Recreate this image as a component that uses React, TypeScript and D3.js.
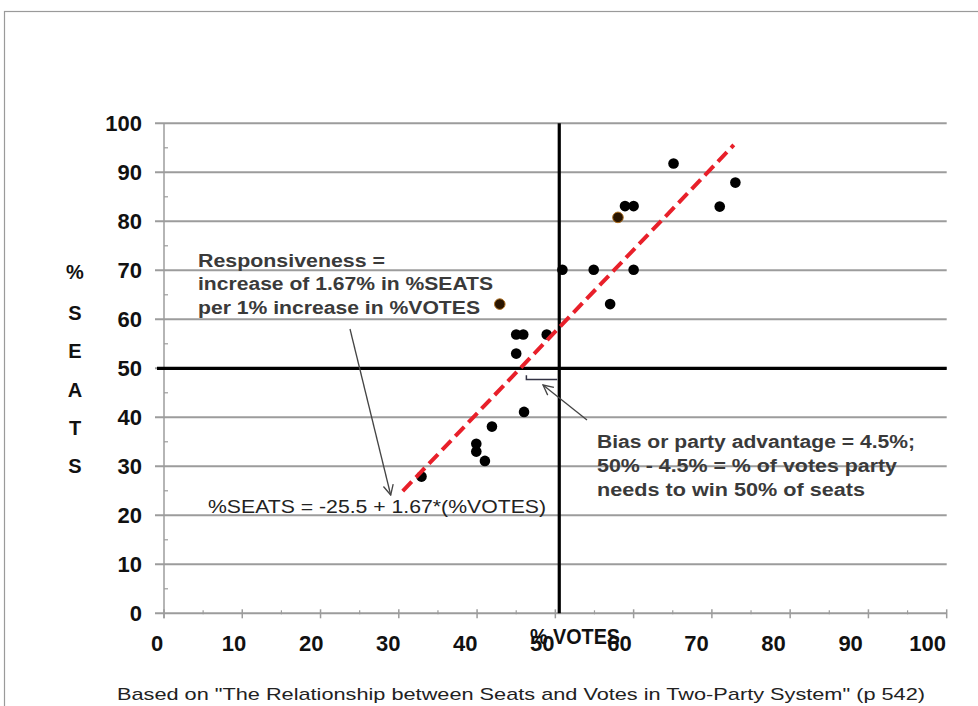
import React from "react";
import * as d3 from "d3";

const votes = [32.9, 39.9, 39.9, 41.0, 41.9, 42.9, 45.0, 45.9, 45.0, 46.0, 48.9, 50.9, 54.9, 57.0, 58.0, 58.9, 60.0, 60.0, 65.1, 71.0, 73.0];
const seats = [27.9, 34.6, 33.0, 31.1, 38.1, 63.1, 56.9, 56.9, 53.0, 41.1, 56.9, 70.1, 70.1, 63.1, 80.8, 83.1, 83.1, 70.1, 91.8, 83.0, 87.9];
const highlighted = [false, false, false, false, false, true, false, false, false, false, false, false, false, false, true, false, false, false, false, false, false];

const xTicks = [0, 10, 20, 30, 40, 50, 60, 70, 80, 90, 100];
const yTicks = [0, 10, 20, 30, 40, 50, 60, 70, 80, 90, 100];
const minorTicks = [5, 15, 25, 35, 45, 55, 65, 75, 85, 95];

const fitIntercept = -26;
const fitSlope = 1.67;
const fitRange = [30.5, 72.8];
const seatThreshold = 50;
const voteThreshold = 50.5;

const respLines = ["Responsiveness  =", "increase of 1.67%  in %SEATS", "per 1%  increase in %VOTES"];
const biasLines = ["Bias or party advantage = 4.5%;", "50%  - 4.5%  = %  of votes  party", "needs to win  50%  of seats"];
const equation = "%SEATS  = -25.5 + 1.67*(%VOTES)";
const yTitle = ["S", "E", "A", "T", "S"];
const footer = "Based on \"The Relationship  between  Seats and Votes in Two-Party  System\" (p 542)";

const W = 978;
const H = 706;
const FONT = "'Liberation Sans', Arial, sans-serif";

export default function App() {
  const x = d3.scaleLinear().domain([0, 100]).range([164, 946.7]);
  const y = d3.scaleLinear().domain([0, 100]).range([613.3, 123.3]);
  const line = d3.line<number>().x((v) => x(v)).y((v) => y(fitIntercept + fitSlope * v));

  const respW = [187, 295, 282];
  const biasW = [318, 300, 268];

  return (
    <div style={{ position: "absolute", left: 0, top: 0, width: W, height: H, overflow: "hidden", background: "#fff" }}>
      <svg width={W} height={H} style={{ display: "block" }} fontFamily={FONT}>
        <defs>
          <marker id="openArrow" viewBox="0 0 12 12" refX="11" refY="6" markerWidth="12" markerHeight="12" markerUnits="userSpaceOnUse" orient="auto">
            <path d="M1,1 L11,6 L1,11" fill="none" stroke="#444" strokeWidth={1.3} />
          </marker>
        </defs>
        <rect x={0} y={0} width={W} height={H} fill="#fff" />
        <rect x={4.5} y={11.5} width={W + 10} height={H + 10} fill="#fff" stroke="#9a9a9a" strokeWidth={1.2} />

        {/* gridlines */}
        {yTicks.map((t) => (
          <line key={"g" + t} x1={155} x2={x(100)} y1={y(t)} y2={y(t)} stroke="#9c9c9c" strokeWidth={2} />
        ))}
        {/* y axis */}
        <line x1={x(0)} x2={x(0)} y1={y(100)} y2={y(0) + 5} stroke="#9c9c9c" strokeWidth={1.5} />
        {minorTicks.map((t) => (
          <line key={"ym" + t} x1={x(0)} x2={x(0) + 4} y1={y(t)} y2={y(t)} stroke="#9c9c9c" strokeWidth={1.2} />
        ))}
        {/* x axis ticks */}
        {xTicks.map((t) => (
          <line key={"xt" + t} x1={x(t)} x2={x(t)} y1={y(0) - 4} y2={y(0) + 5} stroke="#9c9c9c" strokeWidth={1.5} />
        ))}
        {minorTicks.map((t) => (
          <line key={"xm" + t} x1={x(t)} x2={x(t)} y1={y(0) - 3} y2={y(0) + 1} stroke="#9c9c9c" strokeWidth={1.2} />
        ))}

        {/* threshold lines */}
        <line x1={157} x2={x(100)} y1={y(seatThreshold)} y2={y(seatThreshold)} stroke="#000" strokeWidth={3.2} />
        <line x1={x(voteThreshold)} x2={x(voteThreshold)} y1={y(100)} y2={y(0)} stroke="#000" strokeWidth={3.2} />

        {/* tick labels */}
        {yTicks.map((t) => (
          <text key={"yl" + t} x={142} y={y(t)} dy="0.36em" textAnchor="end" fontSize={22} fontWeight="bold" fill="#111">
            {t}
          </text>
        ))}
        {xTicks.map((t) => (
          <text key={"xl" + t} x={x(t) - 7 - t * 0.12} y={643} dy="0.36em" textAnchor="middle" fontSize={22} fontWeight="bold" fill="#111">
            {t}
          </text>
        ))}

        {/* axis titles */}
        <text x={75} y={272} dy="0.35em" textAnchor="middle" fontSize={20} fontWeight="bold" fill="#111">%</text>
        {yTitle.map((c, i) => (
          <text key={"yt" + i} x={75} y={313 + i * 38.25} dy="0.35em" textAnchor="middle" fontSize={20} fontWeight="bold" fill="#111">
            {c}
          </text>
        ))}
        <text x={575} y={636} dy="0.35em" textAnchor="middle" fontSize={22} fontWeight="bold" fill="#111" textLength={90} lengthAdjust="spacingAndGlyphs">
          % VOTES
        </text>
        <text x={117} y={694} dy="0.35em" fontSize={17} fill="#222" textLength={808} lengthAdjust="spacingAndGlyphs">
          {footer}
        </text>

        {/* points */}
        {votes.map((v, i) => (
          <circle
            key={"p" + i}
            cx={x(v)}
            cy={y(seats[i])}
            r={5.3}
            fill={highlighted[i] ? "#2a1500" : "#000"}
            stroke={highlighted[i] ? "#b07020" : "none"}
            strokeWidth={highlighted[i] ? 1 : 0}
          />
        ))}

        {/* fitted line */}
        <path d={line(fitRange) || ""} fill="none" stroke="#e8202a" strokeWidth={4} strokeDasharray="13 6" />

        {/* bias bracket */}
        <path d={`M${x(46.3)},${y(48.6)} V${y(47.7)} H${x(voteThreshold) - 2}`} fill="none" stroke="#334" strokeWidth={1.5} />

        {/* annotations */}
        {respLines.map((s, i) => (
          <text key={"r" + i} x={198} y={267 + i * 23.3} fontSize={18} fontWeight="bold" fill="#3a3a3a" textLength={respW[i]} lengthAdjust="spacingAndGlyphs">
            {s}
          </text>
        ))}
        <line x1={350} y1={329} x2={390.7} y2={495} stroke="#444" strokeWidth={1.3} markerEnd="url(#openArrow)" />

        <text x={208} y={513} fontSize={18} fill="#222" textLength={338} lengthAdjust="spacingAndGlyphs">
          {equation}
        </text>

        {biasLines.map((s, i) => (
          <text key={"b" + i} x={597} y={448 + i * 24} fontSize={18} fontWeight="bold" fill="#3a3a3a" textLength={biasW[i]} lengthAdjust="spacingAndGlyphs">
            {s}
          </text>
        ))}
        <line x1={587} y1={420} x2={543} y2={385} stroke="#444" strokeWidth={1.3} markerEnd="url(#openArrow)" />
      </svg>
    </div>
  );
}
